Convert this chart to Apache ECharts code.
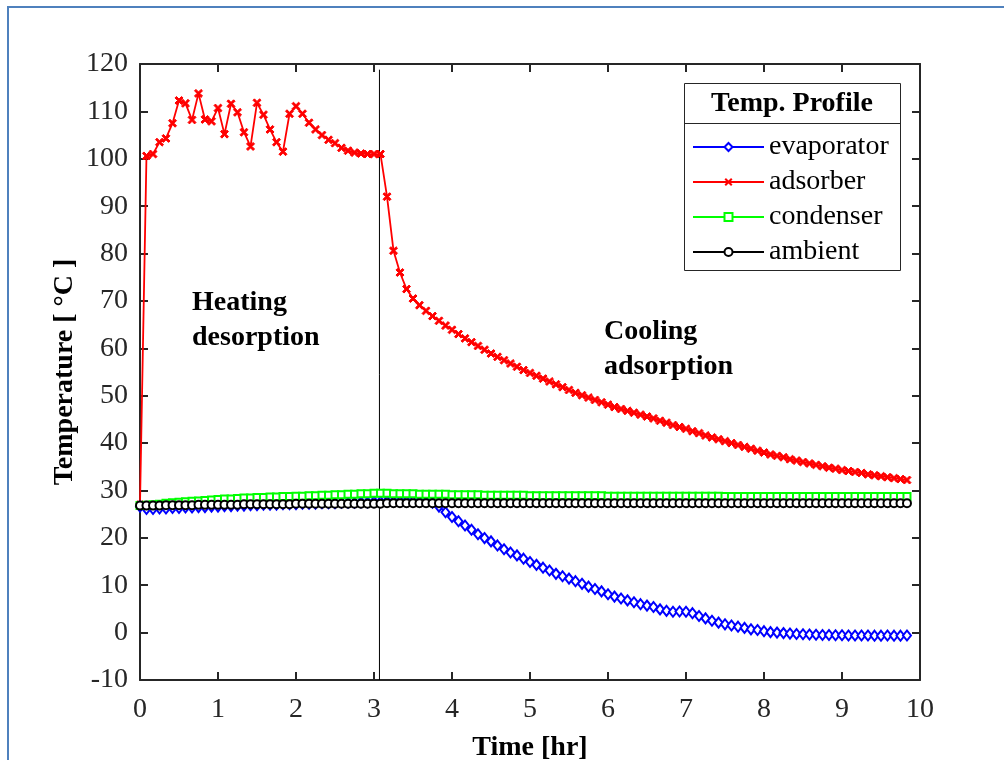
<!DOCTYPE html>
<html>
<head>
<meta charset="utf-8">
<title>Temp. Profile</title>
<script src="https://cdn.jsdelivr.net/npm/echarts@6/dist/echarts.min.js"></script>
<style>
    html, body { margin: 0; padding: 0; background: #fff; }
    #chart { width: 1004px; height: 760px; }
</style>
</head>
<body>
<div id="chart"></div>
<script>
// time axis, hr (5 minute samples)
var timeHr = [
    0, 0.083, 0.167, 0.25, 0.333, 0.417, 0.5, 0.583, 0.667, 0.75, 0.833, 0.917,
    1, 1.083, 1.167, 1.25, 1.333, 1.417, 1.5, 1.583, 1.667, 1.75, 1.833, 1.917,
    2, 2.083, 2.167, 2.25, 2.333, 2.417, 2.5, 2.583, 2.667, 2.75, 2.833, 2.917,
    3, 3.083, 3.167, 3.25, 3.333, 3.417, 3.5, 3.583, 3.667, 3.75, 3.833, 3.917,
    4, 4.083, 4.167, 4.25, 4.333, 4.417, 4.5, 4.583, 4.667, 4.75, 4.833, 4.917,
    5, 5.083, 5.167, 5.25, 5.333, 5.417, 5.5, 5.583, 5.667, 5.75, 5.833, 5.917,
    6, 6.083, 6.167, 6.25, 6.333, 6.417, 6.5, 6.583, 6.667, 6.75, 6.833, 6.917,
    7, 7.083, 7.167, 7.25, 7.333, 7.417, 7.5, 7.583, 7.667, 7.75, 7.833, 7.917,
    8, 8.083, 8.167, 8.25, 8.333, 8.417, 8.5, 8.583, 8.667, 8.75, 8.833, 8.917,
    9, 9.083, 9.167, 9.25, 9.333, 9.417, 9.5, 9.583, 9.667, 9.75, 9.833
];

var evaporator = [
    26.6, 26.1, 26.1, 26.2, 26.2, 26.3, 26.3, 26.4, 26.4, 26.5, 26.5, 26.6,
    26.6, 26.7, 26.7, 26.8, 26.8, 26.9, 26.9, 27.0, 27.0, 27.0, 27.1, 27.1,
    27.1, 27.2, 27.2, 27.2, 27.3, 27.3, 27.3, 27.4, 27.4, 27.4, 27.5, 27.5,
    27.6, 27.6, 27.7, 27.7, 27.8, 27.8, 27.8, 27.8, 27.7, 27.4, 26.6, 25.4,
    24.4, 23.5, 22.6, 21.7, 20.75, 19.95, 19.25, 18.4, 17.6, 16.9, 16.3, 15.6,
    14.9, 14.3, 13.7, 13.1, 12.4, 11.9, 11.4, 10.85, 10.3, 9.7, 9.2, 8.7,
    8.1, 7.6, 7.2, 6.8, 6.4, 6.0, 5.7, 5.4, 4.9, 4.6, 4.4, 4.45,
    4.4, 4.1, 3.5, 3.0, 2.5, 2.1, 1.75, 1.5, 1.25, 1.0, 0.7, 0.55,
    0.3, 0.1, 0.0, -0.1, -0.2, -0.3, -0.35, -0.4, -0.45, -0.5, -0.5, -0.55,
    -0.55, -0.6, -0.6, -0.6, -0.6, -0.65, -0.65, -0.6, -0.65, -0.65, -0.6
];

var adsorber = [
    27.0, 100.6, 101.0, 103.5, 104.3, 107.5, 112.3, 111.7, 108.2, 113.8, 108.3, 107.9,
    110.7, 105.2, 111.6, 109.8, 105.6, 102.6, 111.8, 109.3, 106.2, 103.5, 101.5, 109.5,
    111.1, 109.5, 107.6, 106.2, 105.0, 104.0, 103.3, 102.3, 101.7, 101.3, 101.1, 101.0,
    101.0, 101.0, 92.0, 80.6, 76.0, 72.5, 70.5, 69.1, 67.9, 66.8, 65.8, 64.8,
    63.9, 63.0, 62.1, 61.3, 60.5, 59.7, 58.9, 58.2, 57.5, 56.8, 56.1, 55.4,
    54.8, 54.2, 53.6, 53.0, 52.4, 51.8, 51.2, 50.6, 50.1, 49.6, 49.1, 48.6,
    48.1, 47.6, 47.2, 46.8, 46.4, 46.0, 45.6, 45.2, 44.7, 44.3, 43.8, 43.4,
    43.0, 42.5, 42.1, 41.6, 41.2, 40.8, 40.4, 40.0, 39.6, 39.2, 38.8, 38.4,
    38.0, 37.6, 37.3, 37.0, 36.6, 36.3, 36.0, 35.7, 35.4, 35.1, 34.8, 34.6,
    34.3, 34.1, 33.9, 33.7, 33.4, 33.2, 33.0, 32.8, 32.6, 32.4, 32.2
];

var condenser = [
    26.8, 26.9, 27.0, 27.1, 27.3, 27.4, 27.5, 27.6, 27.7, 27.8, 27.9, 28.0,
    28.1, 28.2, 28.2, 28.3, 28.4, 28.4, 28.5, 28.5, 28.6, 28.6, 28.7, 28.7,
    28.8, 28.8, 28.9, 28.9, 29.0, 29.0, 29.1, 29.1, 29.2, 29.2, 29.3, 29.3,
    29.4, 29.4, 29.4, 29.3, 29.3, 29.3, 29.3, 29.2, 29.2, 29.2, 29.2, 29.2,
    29.1, 29.1, 29.1, 29.1, 29.1, 29.0, 29.0, 29.0, 29.0, 29.0, 29.0, 29.0,
    28.9, 28.9, 28.9, 28.9, 28.9, 28.9, 28.9, 28.9, 28.9, 28.9, 28.9, 28.9,
    28.8, 28.8, 28.8, 28.8, 28.8, 28.8, 28.8, 28.8, 28.8, 28.8, 28.8, 28.8,
    28.8, 28.8, 28.8, 28.8, 28.8, 28.8, 28.7, 28.7, 28.7, 28.7, 28.7, 28.7,
    28.7, 28.7, 28.7, 28.7, 28.7, 28.7, 28.7, 28.7, 28.7, 28.7, 28.7, 28.7,
    28.7, 28.7, 28.7, 28.7, 28.7, 28.7, 28.7, 28.7, 28.7, 28.7, 28.7
];

var ambient = [
    26.8, 26.8, 26.8, 26.8, 26.9, 26.9, 26.9, 26.9, 26.9, 27.0, 27.0, 27.0,
    27.0, 27.0, 27.0, 27.0, 27.1, 27.1, 27.1, 27.1, 27.1, 27.1, 27.1, 27.1,
    27.2, 27.2, 27.2, 27.2, 27.2, 27.2, 27.2, 27.2, 27.2, 27.2, 27.2, 27.2,
    27.2, 27.2, 27.3, 27.3, 27.3, 27.3, 27.3, 27.3, 27.3, 27.3, 27.3, 27.3,
    27.3, 27.3, 27.3, 27.3, 27.3, 27.3, 27.3, 27.3, 27.3, 27.3, 27.3, 27.3,
    27.3, 27.3, 27.3, 27.3, 27.3, 27.3, 27.3, 27.3, 27.3, 27.3, 27.3, 27.3,
    27.3, 27.3, 27.3, 27.3, 27.3, 27.3, 27.3, 27.3, 27.3, 27.3, 27.3, 27.3,
    27.3, 27.3, 27.3, 27.3, 27.3, 27.3, 27.3, 27.3, 27.3, 27.3, 27.3, 27.3,
    27.3, 27.3, 27.3, 27.3, 27.3, 27.3, 27.3, 27.3, 27.3, 27.3, 27.3, 27.3,
    27.3, 27.3, 27.3, 27.3, 27.3, 27.3, 27.3, 27.3, 27.3, 27.3, 27.3
];

// switch from heating to cooling, hr / line ends, degC
var switchTime = [3.07, 3.07];
var switchTemp = [-10, 118.8];

var seriesNames = ['evaporator', 'adsorber', 'condenser', 'ambient'];

function pairs(xs, ys) {
    var out = [];
    for (var i = 0; i < ys.length; i++) out.push([xs[i], ys[i]]);
    return out;
}

var serif = '"Liberation Serif", "Times New Roman", serif';
var axisColor = '#262626';
// x marker as a filled outline so it keeps a solid stroke
var crossPath = 'path://M0,1.8L1.8,0L5,3.2L8.2,0L10,1.8L6.8,5L10,8.2L8.2,10L5,6.8L1.8,10L0,8.2L3.2,5Z';

function lineSeries(name, ys, color, symbol, size) {
    return {
        name: name,
        type: 'line',
        data: pairs(timeHr, ys),
        symbol: symbol,
        symbolSize: size,
        showSymbol: true,
        color: color,
        lineStyle: { color: color, width: 1.8 },
        itemStyle: { color: color, borderColor: color },
        emphasis: { disabled: true }
    };
}

function boxAxis(pos, showLabel, extra) {
    var ax = {
        type: 'value',
        position: pos,
        axisLine: { show: true, onZero: false, lineStyle: { color: axisColor, width: 2 } },
        axisTick: { show: true, inside: true, length: 8, lineStyle: { color: axisColor, width: 2 } },
        axisLabel: { show: showLabel, color: axisColor, fontSize: 28, fontFamily: serif, margin: 12 },
        splitLine: { show: false }
    };
    for (var k in extra) ax[k] = extra[k];
    return ax;
}

var chart = echarts.init(document.getElementById('chart'));

chart.setOption({
    animation: false,
    backgroundColor: '#fff',
    grid: { left: 140, right: 84, top: 64, bottom: 80, outerBoundsMode: 'none', containLabel: false },
    xAxis: [
        boxAxis('bottom', true, {
            min: 0, max: 10, interval: 1,
            axisLabel: { color: axisColor, fontSize: 28, fontFamily: serif, margin: 16 },
            name: 'Time [hr]', nameLocation: 'middle', nameGap: 54,
            nameTextStyle: { color: '#000', fontSize: 28, fontWeight: 'bold', fontFamily: serif }
        }),
        boxAxis('top', false, { min: 0, max: 10, interval: 1 })
    ],
    yAxis: [
        boxAxis('left', true, {
            min: -10, max: 120, interval: 10,
            name: 'Temperature [ °C ]', nameLocation: 'middle', nameGap: 61,
            nameMoveOverlap: false,
            nameTextStyle: { color: '#000', fontSize: 28, fontWeight: 'bold', fontFamily: serif }
        }),
        boxAxis('right', false, { min: -10, max: 120, interval: 10 })
    ],
    legend: {
        data: seriesNames,
        orient: 'vertical',
        left: 692,
        top: 133,
        padding: 0,
        itemWidth: 71,
        itemHeight: 10,
        itemGap: 7,
        textStyle: { color: '#000', fontSize: 28, fontFamily: serif },
        selectedMode: false
    },
    graphic: [
        {
            type: 'rect', silent: true,
            shape: { x: 8, y: 7, width: 1010, height: 770 },
            style: { fill: 'none', stroke: '#4f81bd', lineWidth: 2 }
        },
        {
            type: 'rect', silent: true, z: -1,
            shape: { x: 684.5, y: 83.5, width: 216, height: 187 },
            style: { fill: '#fff', stroke: axisColor, lineWidth: 1 }
        },
        {
            type: 'line', silent: true,
            shape: { x1: 684, y1: 123.5, x2: 900, y2: 123.5 },
            style: { stroke: axisColor, lineWidth: 1 }
        },
        {
            type: 'text', x: 792, y: 104, silent: true,
            style: { text: 'Temp. Profile', fill: '#000', font: 'bold 28px ' + serif, align: 'center', verticalAlign: 'middle' }
        },
        {
            type: 'text', x: 192, y: 320, silent: true,
            style: { text: 'Heating\ndesorption', fill: '#000', font: 'bold 28px ' + serif, lineHeight: 35, align: 'left', verticalAlign: 'middle' }
        },
        {
            type: 'text', x: 604, y: 349, silent: true,
            style: { text: 'Cooling\nadsorption', fill: '#000', font: 'bold 28px ' + serif, lineHeight: 35, align: 'left', verticalAlign: 'middle' }
        }
    ],
    series: [
        lineSeries('evaporator', evaporator, '#0000ff', 'emptyDiamond', [8, 10]),
        lineSeries('adsorber', adsorber, '#ff0000', crossPath, 8),
        lineSeries('condenser', condenser, '#00ff00', 'emptyRect', 7),
        lineSeries('ambient', ambient, '#000000', 'emptyCircle', 8),
        {
            name: 'switch',
            type: 'line',
            data: pairs(switchTime, switchTemp),
            symbol: 'none',
            silent: true,
            lineStyle: { color: '#000', width: 1 }
        }
    ]
});
</script>
</body>
</html>
